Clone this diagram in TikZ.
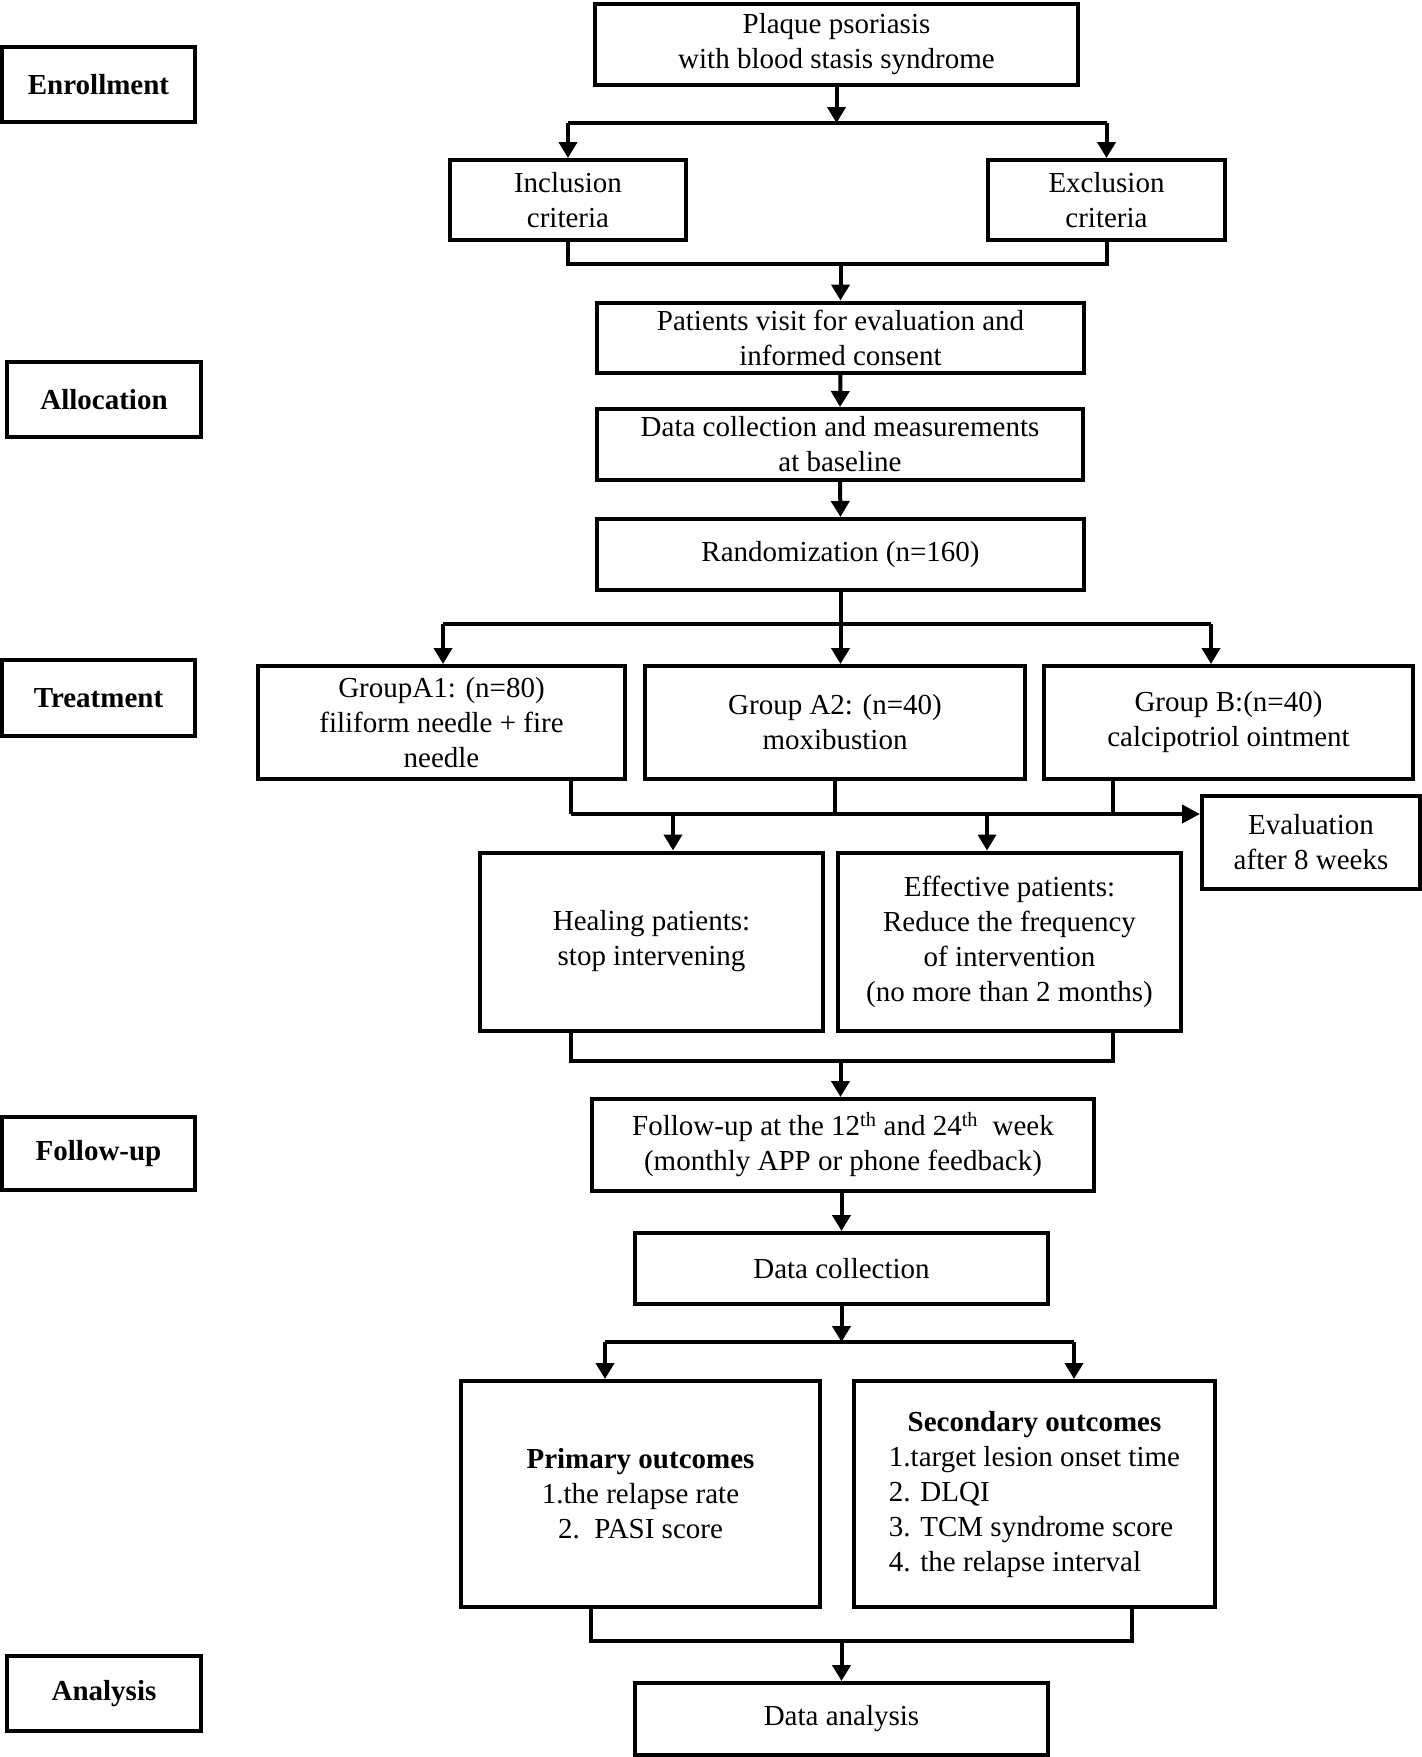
\documentclass[tikz,border=0pt]{standalone}
\usepackage{fontspec}
\setmainfont{Liberation Serif}
\usetikzlibrary{arrows.meta}

\begin{document}
\begin{tikzpicture}[x=1pt,y=1pt,yscale=-1,
    mainbox/.style={draw, line width=4pt, align=center, inner sep=2pt,
        font=\fontsize{29}{35}\selectfont},
    stagebox/.style={draw, line width=4pt, minimum width=193pt, minimum height=73pt,
        font=\fontsize{29}{35}\selectfont\bfseries},
    link/.style={line width=4pt},
    bus/.style={line width=4pt},
    arr/.style={line width=4pt, -{Triangle[length=16pt,width=18pt]}}]
\useasboundingbox (0,0) rectangle (1422,1757);
%stage labels
\node[stagebox, minimum height=75pt] (enr) at (98.5,84.5) {Enrollment};
\node[stagebox, minimum width=194pt, minimum height=75pt] (alloc) at (104,399.5) {Allocation};
\node[stagebox, minimum height=76pt] (treat) at (98.5,698) {Treatment};
\node[stagebox] (fup0) at (98.5,1153.5) {Follow-up};
\node[stagebox, minimum width=194pt, minimum height=75pt] (ana) at (104,1693.5) {Analysis};
%enrollment
\node[mainbox, minimum width=483pt, minimum height=81pt] (plaque) at (836.5,44.5) {Plaque psoriasis\\with blood stasis syndrome};
\node[mainbox, minimum width=236pt, minimum height=80pt] (incl) at (568,200) {Inclusion\\criteria};
\node[mainbox, minimum width=237pt, minimum height=80pt] (excl) at (1106.5,200) {Exclusion\\criteria};
%allocation
\node[mainbox, minimum width=487pt, minimum height=70pt] (visit) at (840.5,337.5) {Patients visit for evaluation and\\informed consent};
\node[mainbox, minimum width=486pt, minimum height=71pt] (base) at (840,444.5) {Data collection and measurements\\at baseline};
\node[mainbox, minimum width=487pt, minimum height=71pt] (rand) at (840.5,554.5) {Randomization (n=160)};
%treatment
\node[mainbox, minimum width=367pt, minimum height=113pt] (ga1) at (441.5,722.5) {GroupA1: (n=80)\\filiform needle + fire\\needle};
\node[mainbox, minimum width=380pt, minimum height=113pt] (ga2) at (835,722.5) {Group A2: (n=40)\\moxibustion};
\node[mainbox, minimum width=369pt, minimum height=113pt] (gb) at (1228.5,722.5) {Group B:(n=40)\\calcipotriol ointment};
\node[mainbox, minimum width=218pt, minimum height=93pt] (eval) at (1311,842.5) {Evaluation\\after 8 weeks};
\node[mainbox, minimum width=343pt, minimum height=178pt] (heal) at (651.5,941.5) {Healing patients:\\stop intervening};
\node[mainbox, minimum width=343pt, minimum height=178pt] (eff) at (1009.5,941.5) {Effective patients:\\Reduce the frequency\\of intervention\\(no more than 2 months)};
%follow-up
\node[mainbox, minimum width=502pt, minimum height=92pt] (fup) at (843,1145) {Follow-up at the 12\textsuperscript{th} and 24\textsuperscript{th}\ \ week\\(monthly APP or phone feedback)};
\node[mainbox, minimum width=413pt, minimum height=71pt] (dcol) at (841.5,1268.5) {Data collection};
\node[mainbox, minimum width=359pt, minimum height=226pt] (prim) at (640.5,1494) {\textbf{Primary outcomes}\\1.the relapse rate\\2.\ \ PASI score};
\node[mainbox, minimum width=361pt, minimum height=226pt] (sec) at (1034.5,1494) {\begin{tabular}{@{}l@{}}\multicolumn{1}{@{}c@{}}{\textbf{Secondary outcomes}}\\1.target lesion onset time\\2. DLQI\\3. TCM syndrome score\\4. the relapse interval\end{tabular}};
%analysis
\node[mainbox, minimum width=413pt, minimum height=72pt] (dana) at (841.5,1719) {Data analysis};

%enrollment connectors
\coordinate (s1) at (836.5,123);
\draw[arr] (plaque.south) -- (s1);
\draw[bus] (incl.north |- s1) -- (excl.north |- s1);
\draw[arr] (incl.north |- s1) -- (incl.north);
\draw[arr] (excl.north |- s1) -- (excl.north);
\coordinate (m1) at (840.5,264);
\draw[bus] (incl.south) -- (incl.south |- m1) -- (excl.south |- m1) -- (excl.south);
\draw[arr] (m1) -- (visit.north);
\draw[arr] (visit.south) -- (base.north);
\draw[arr] (base.south) -- (rand.north);
%randomization split
\coordinate (s2) at (840.5,624);
\coordinate (a1) at (443,624);
\coordinate (a3) at (1211,624);
\draw[link] (rand.south) -- (s2);
\draw[bus] (a1) -- (a3);
\draw[arr] (a1) -- (a1 |- ga1.north);
\draw[arr] (s2) -- (s2 |- ga2.north);
\draw[arr] (a3) -- (a3 |- gb.north);
%after 8 weeks
\coordinate (b1) at (571,814);
\coordinate (b2) at (835,814);
\coordinate (b3) at (1113,814);
\coordinate (c1) at (673,814);
\coordinate (c2) at (987,814);
\draw[link] (b1 |- ga1.south) -- (b1);
\draw[link] (b2 |- ga2.south) -- (b2);
\draw[link] (b3 |- gb.south) -- (b3);
\draw[bus, -{Triangle[length=18pt,width=18pt]}] (b1) -- (eval.west |- b1);
\draw[arr] (c1) -- (c1 |- heal.north);
\draw[arr] (c2) -- (c2 |- eff.north);
\coordinate (m2) at (840.5,1061);
\draw[bus] (b1 |- heal.south) -- (b1 |- m2) -- (b3 |- m2) -- (b3 |- eff.south);
\draw[arr] (m2) -- (m2 |- fup.north);
%follow-up connectors
\draw[arr] (dcol.south |- fup.south) -- (dcol.north);
\coordinate (s3) at (841.5,1342);
\coordinate (d1) at (605,1342);
\coordinate (d2) at (1074,1342);
\draw[arr] (dcol.south) -- (s3);
\draw[bus] (d1) -- (d2);
\draw[arr] (d1) -- (d1 |- prim.north);
\draw[arr] (d2) -- (d2 |- sec.north);
\coordinate (m3) at (841.5,1641);
\coordinate (e1) at (591,1641);
\coordinate (e2) at (1132,1641);
\draw[bus] (e1 |- prim.south) -- (e1) -- (e2) -- (e2 |- sec.south);
\draw[arr] (m3) -- (dana.north);
\end{tikzpicture}
\end{document}
